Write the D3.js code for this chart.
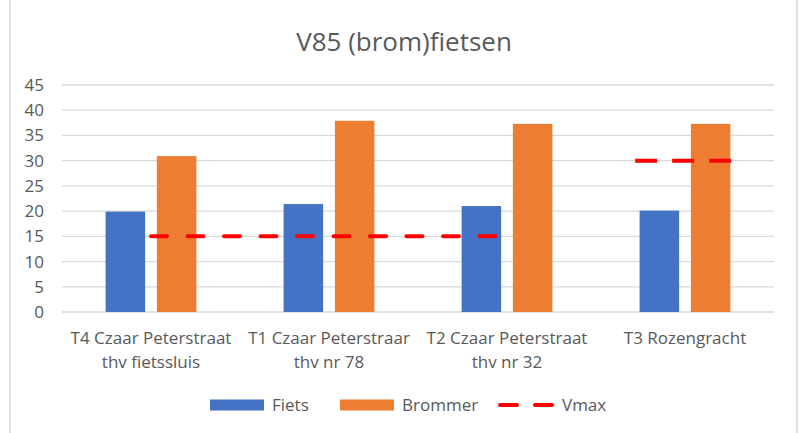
<!DOCTYPE html>
<script src="https://d3js.org/d3.v7.min.js"></script>
<body style="margin: 0; background: #fff;">
<svg id="chart" width="799" height="433"></svg>
</body>

<style>
  text { font-family: "Segoe UI", "Open Sans", sans-serif; fill: #595959; }
  .grid line { stroke: #d9d9d9; stroke-width: 1.3px; }
</style>

<script>

// data
var categories = [
  ["T4 Czaar Peterstraat", "thv fietssluis"],
  ["T1 Czaar Peterstraar", "thv nr 78"],
  ["T2 Czaar Peterstraat", "thv nr 32"],
  ["T3 Rozengracht"]
];
var fiets = [19.9, 21.4, 21.0, 20.1];
var brommer = [30.9, 37.9, 37.3, 37.3];
// Vmax drawn as flat pieces, "from"/"to" in category index units
var vmax = [
  {from: 0, to: 2, value: 15},
  {from: 2.72, to: 3.26, value: 30}
];
var yTicks = d3.range(0, 50, 5);
var seriesNames = ["Fiets", "Brommer", "Vmax"];
var colors = {Fiets: "#4472c4", Brommer: "#ed7d31", Vmax: "#ff0000"};

var svg = d3.select("#chart");

var plotLeft = 62, plotRight = 774, plotTop = 85, plotBottom = 312;

// chart frame
svg.append("rect")
   .attr("x", 10).attr("y", -2)
   .attr("width", 787).attr("height", 440)
   .attr("fill", "none")
   .attr("stroke", "#d9d9d9")
   .attr("stroke-width", 1.5);

svg.append("text")
   .attr("x", 404).attr("y", 51)
   .attr("text-anchor", "middle")
   .style("font-size", "26px")
   .text("V85 (brom)fietsen");

var x = d3.scaleBand().domain(d3.range(categories.length)).range([plotLeft, plotRight]);
var xIdx = d3.scaleLinear().domain([-0.5, categories.length - 0.5]).range([plotLeft, plotRight]);
var y = d3.scaleLinear().domain([0, 45]).range([plotBottom, plotTop]);

var bw = x.bandwidth() * 0.222;
var gap = x.bandwidth() * 0.066;

// gridlines
svg.append("g").attr("class", "grid")
  .selectAll("line")
  .data(yTicks)
  .join("line")
    .attr("x1", plotLeft).attr("x2", plotRight)
    .attr("y1", d => y(d)).attr("y2", d => y(d));

// y labels
svg.append("g")
  .selectAll("text")
  .data(yTicks)
  .join("text")
    .attr("x", 44)
    .attr("y", d => y(d))
    .attr("dy", "0.35em")
    .attr("text-anchor", "end")
    .style("font-size", "17px")
    .text(d => d);

// bars
svg.append("g")
  .selectAll("rect")
  .data(fiets)
  .join("rect")
    .attr("x", (d, i) => x(i) + x.bandwidth() / 2 - gap / 2 - bw)
    .attr("y", d => y(d))
    .attr("width", bw)
    .attr("height", d => y(0) - y(d))
    .attr("fill", colors.Fiets);

svg.append("g")
  .selectAll("rect")
  .data(brommer)
  .join("rect")
    .attr("x", (d, i) => x(i) + x.bandwidth() / 2 + gap / 2)
    .attr("y", d => y(d))
    .attr("width", bw)
    .attr("height", d => y(0) - y(d))
    .attr("fill", colors.Brommer);

// vmax dashes
svg.append("g")
  .selectAll("line")
  .data(vmax)
  .join("line")
    .attr("x1", d => xIdx(d.from)).attr("x2", d => xIdx(d.to))
    .attr("y1", d => y(d.value)).attr("y2", d => y(d.value))
    .attr("stroke", colors.Vmax)
    .attr("stroke-width", 4)
    .attr("stroke-linecap", (d, i) => i == 0 ? "round" : "butt")
    .attr("stroke-dasharray", (d, i) => i == 0 ? "16,20.5" : "22,15");

// category labels
var lab = svg.append("g")
  .selectAll("text")
  .data(categories)
  .join("text")
    .attr("text-anchor", "middle")
    .style("font-size", "17px");

lab.selectAll("tspan")
  .data((d, i) => d.map(s => ({s: s, i: i})))
  .join("tspan")
    .attr("x", d => x(d.i) + x.bandwidth() / 2)
    .attr("y", (d, j) => 344 + j * 24)
    .text(d => d.s);

// legend
var legX = [210, 340, 498];
var leg = svg.append("g")
  .selectAll("g")
  .data(seriesNames)
  .join("g")
    .attr("transform", (d, i) => "translate(" + legX[i] + ",405)");

leg.filter(d => d != "Vmax").append("rect")
    .attr("x", 0).attr("y", -5.5)
    .attr("width", 54).attr("height", 11)
    .attr("fill", d => colors[d]);

leg.filter(d => d == "Vmax").append("line")
    .attr("x1", 2).attr("x2", 56)
    .attr("stroke", colors.Vmax)
    .attr("stroke-width", 4)
    .attr("stroke-linecap", "round")
    .attr("stroke-dasharray", "17,18");

leg.append("text")
    .attr("x", (d, i) => i == 2 ? 64 : 62)
    .attr("dy", "0.35em")
    .style("font-size", "17px")
    .text(d => d);

</script>
